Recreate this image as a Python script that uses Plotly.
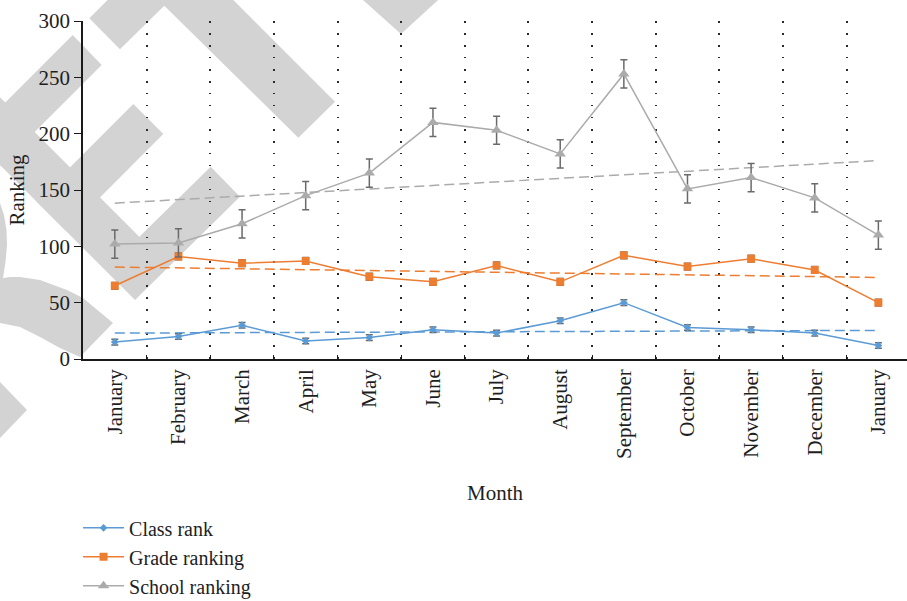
import plotly.graph_objects as go

# ---- data -------------------------------------------------------------
months = ["January", "February", "March", "April", "May", "June", "July",
          "August", "September", "October", "November", "December", "January"]

class_rank = [15, 20, 30, 16, 19, 26, 23, 34, 50, 28, 26, 23, 12]
grade_rank = [65, 91, 85, 87, 73, 68.5, 83, 68.5, 92, 82, 89, 79, 50]
school_rank = [102, 103, 120, 145, 165, 210, 203, 182, 253, 151, 161, 143, 110]

# standard-error bars (constant per series)
class_err = 2.5
grade_err = 3
school_err = 12.5

# linear trend lines, first and last month
trend_class = [23.0, 25.4]
trend_grade = [81.6, 72.4]
trend_school = [138.3, 176.1]

y_ticks = [0, 50, 100, 150, 200, 250, 300]

# ---- styling ----------------------------------------------------------
BLUE = "#5B9BD5"
ORANGE = "#ED7D31"
GRAY = "#ABABAB"
ERR = "#6A6A6A"
FONT = "Liberation Serif"
TXT = "#1E1E1E"
FS = 21

W, H = 907, 601
ML, MR, MT, MB = 83, 0, 21, 242
PW, PH = W - ML - MR, H - MT - MB

x_idx = list(range(len(months)))
trend_x = [x_idx[0], x_idx[-1]]

fig = go.Figure()

series = [
    ("Class rank", class_rank, class_err, BLUE, "diamond", 6, trend_class),
    ("Grade ranking", grade_rank, grade_err, ORANGE, "square", 8, trend_grade),
    ("School ranking", school_rank, school_err, GRAY, "triangle-up", 10, trend_school),
]

# dashed trend lines underneath the data
for name, vals, err, col, sym, size, trend in series:
    fig.add_trace(go.Scatter(
        x=trend_x, y=trend, mode="lines",
        line=dict(color=col, width=1.5, dash="10px,5px"),
        showlegend=False, hoverinfo="skip",
    ))

for name, vals, err, col, sym, size, trend in series:
    fig.add_trace(go.Scatter(
        x=x_idx, y=vals, name=name, mode="lines+markers",
        line=dict(color=col, width=1.5),
        marker=dict(symbol=sym, size=size, color=col, line=dict(width=0)),
        error_y=dict(type="constant", value=err, color=ERR,
                     thickness=1.5, width=3.5),
    ))

# ---- background watermark (pixel outlines -> paper coords) -------------
def to_paper(pts):
    return [((px - ML) / PW, (MT + PH - py) / PH) for px, py in pts]

watermark = [
    [(89.3, 18.3), (170.5, -62.8), (335, 101.7), (298.3, 137.7),
     (164.3, 5.7), (120, 49.3)],
    [(351.8, -10), (401, 34), (449, -10)],
    [(72.7, 35), (101.7, 65), (0.85, 165.8), (-28.7, 136.3)],
    [(133.3, 104), (163.3, 134), (66.2, 231.2), (36.2, 201.2)],
    [(-80, 17.3), (139.3, 236.7), (210.7, 166.7), (240, 196.7),
     (135, 300), (-80, 85)],
    [(-10, 200), (0, 203), (4, 215), (6.5, 230), (7, 245), (5.5, 262),
     (3, 278), (10, 277), (20, 277), (40, 280), (67, 290), (83, 298),
     (113, 323), (80, 357), (60, 348), (40, 337), (20, 327), (0, 323),
     (-10, 322)],
    [(-10, 372), (0, 382), (27, 410), (0, 438), (-10, 448)],
]
shapes = []
for poly in watermark:
    pp = to_paper(poly)
    path = "M " + " L ".join(f"{x:.5f},{y:.5f}" for x, y in pp) + " Z"
    shapes.append(dict(type="path", path=path, xref="paper", yref="paper",
                       fillcolor="#D3D3D3", line=dict(width=0), layer="below"))

fig.update_layout(
    width=W, height=H,
    margin=dict(l=ML, r=MR, t=MT, b=MB, autoexpand=False),
    paper_bgcolor="white", plot_bgcolor="rgba(0,0,0,0)",
    font=dict(family=FONT, size=FS, color=TXT),
    shapes=shapes,
    showlegend=True,
    legend=dict(x=-0.006, y=-0.4417, xanchor="left", yanchor="top",
                font=dict(family=FONT, size=20, color=TXT),
                bgcolor="rgba(0,0,0,0)", itemwidth=41, tracegroupgap=0),
    xaxis=dict(
        range=[-0.5, len(months) - 0.55],
        tickmode="array", tickvals=x_idx, ticktext=months,
        tickangle=-90, ticks="", showgrid=False, zeroline=False,
        showline=True, linecolor="#1A1A1A", linewidth=1.5,
        tickfont=dict(family=FONT, size=FS, color=TXT),
        minor=dict(tickvals=[i + 0.5 for i in x_idx[:-1]],
                   ticks="inside", ticklen=4, tickwidth=1, tickcolor="#1A1A1A",
                   showgrid=True, gridcolor="#2A2A2A", gridwidth=1.5,
                   griddash="1.5px,10.5px"),
        title=dict(text="Month", font=dict(family=FONT, size=FS, color=TXT),
                   standoff=27),
        fixedrange=True,
    ),
    yaxis=dict(
        range=[0, 300], tickmode="array", tickvals=y_ticks,
        ticks="outside", ticklen=7, tickwidth=1.2, tickcolor="#1A1A1A",
        showgrid=False, zeroline=False,
        showline=True, linecolor="#1A1A1A", linewidth=1.5,
        tickfont=dict(family=FONT, size=FS, color=TXT),
        title=dict(text="Ranking", font=dict(family=FONT, size=FS, color=TXT),
                   standoff=8),
        fixedrange=True,
    ),
)

fig.write_html("out.html")
